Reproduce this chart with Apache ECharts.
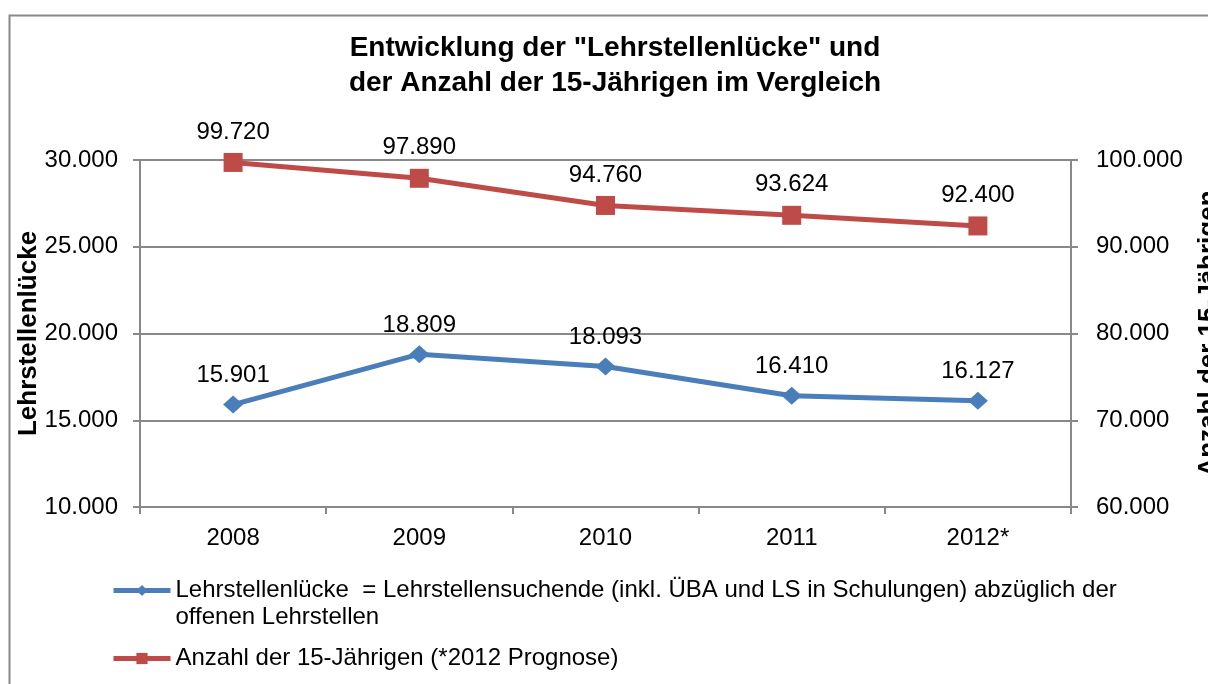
<!DOCTYPE html>
<html>
<head>
<meta charset="utf-8">
<script src="https://cdn.jsdelivr.net/npm/echarts@6/dist/echarts.min.js"></script>
<style>
  html, body { margin: 0; padding: 0; background: #fff; }
  #grafico { width: 1208px; height: 684px; }
</style>
</head>
<body>
<div id="grafico"></div>
<script>
// Datos
const jahre = ['2008', '2009', '2010', '2011', '2012*'];
const luecke = [15901, 18809, 18093, 16410, 16127];
const jaehrige = [99720, 97890, 94760, 93624, 92400];

const nameLuecke = 'Lehrstellenlücke  = Lehrstellensuchende (inkl. ÜBA und LS in Schulungen) abzüglich der\noffenen Lehrstellen';
const nameJaehrige = 'Anzahl der 15-Jährigen (*2012 Prognose)';

// Zahl im deutschen Format (Tausenderpunkt)
function fmt(v) {
    return String(Math.round(v)).replace(/\B(?=(\d{3})+(?!\d))/g, '.');
}

const schrift = 'Arial, "Liberation Sans", sans-serif';
const grau = '#888888';
const blau = '#4A7EBB';
const rot = '#BE4B48';

function crearGrafico() {
    return {
        textStyle: { fontFamily: schrift },
        title: {
            text: 'Entwicklung der "Lehrstellenlücke" und\nder Anzahl der 15-Jährigen im Vergleich',
            left: 610,
            top: 26,
            textAlign: 'center',
            textStyle: { fontFamily: schrift, fontSize: 28, fontWeight: 'bold', color: '#000', lineHeight: 35 }
        },
        graphic: [{
            type: 'rect',
            left: 7, top: 13,
            shape: { width: 1400, height: 900 },
            style: { fill: 'none', stroke: grau, lineWidth: 2 },
            z: -1
        }],
        legend: [{
            data: [nameLuecke],
            orient: 'vertical',
            left: 111, top: 550,
            padding: 0,
            itemWidth: 57, itemHeight: 14,
            lineStyle: { width: 5 },
            // Leerzeile oben, damit die erste Zeile neben dem Symbol steht
            formatter: name => '\n' + name,
            textStyle: { fontSize: 24, color: '#000', lineHeight: 27 }
        }, {
            data: [nameJaehrige],
            orient: 'vertical',
            left: 111, top: 645,
            padding: 0,
            itemWidth: 57, itemHeight: 14,
            lineStyle: { width: 5 },
            textStyle: { fontSize: 24, color: '#000', lineHeight: 27 }
        }],
        grid: { left: 140, right: 137, top: 160, bottom: 177, outerBoundsMode: 'none' },
        xAxis: {
            type: 'category',
            data: jahre,
            boundaryGap: true,
            axisLine: { lineStyle: { color: grau, width: 2 } },
            axisTick: { show: true, length: 7, lineStyle: { color: grau, width: 2 } },
            axisLabel: { fontSize: 24, color: '#000', margin: 19 }
        },
        yAxis: [{
            type: 'value',
            min: 10000, max: 30000, interval: 5000,
            name: 'Lehrstellenlücke',
            nameLocation: 'middle',
            nameRotate: 90,
            nameGap: 98,
            nameMoveOverlap: false,
            nameTextStyle: { fontSize: 26, fontWeight: 'bold', color: '#000' },
            axisLine: { show: true, lineStyle: { color: grau, width: 2 } },
            axisTick: { show: true, length: 7, lineStyle: { color: grau, width: 2 } },
            axisLabel: { fontSize: 24, color: '#000', margin: 22, formatter: fmt },
            splitLine: { show: true, lineStyle: { color: grau, width: 2 } }
        }, {
            type: 'value',
            min: 60000, max: 100000, interval: 10000,
            name: 'Anzahl der 15-Jährigen',
            nameLocation: 'middle',
            nameRotate: 90,
            nameGap: 125,
            nameMoveOverlap: false,
            nameTextStyle: { fontSize: 26, fontWeight: 'bold', color: '#000' },
            axisLine: { show: true, lineStyle: { color: grau, width: 2 } },
            axisTick: { show: true, length: 7, lineStyle: { color: grau, width: 2 } },
            axisLabel: { fontSize: 24, color: '#000', margin: 25, formatter: fmt },
            splitLine: { show: false }
        }],
        series: [{
            name: nameLuecke,
            type: 'line',
            yAxisIndex: 0,
            data: luecke,
            symbol: 'diamond',
            symbolSize: [20, 18],
            lineStyle: { color: blau, width: 5 },
            itemStyle: { color: blau },
            label: { show: true, position: 'top', distance: 8, fontSize: 24, color: '#000', formatter: p => fmt(p.value) }
        }, {
            name: nameJaehrige,
            type: 'line',
            yAxisIndex: 1,
            data: jaehrige,
            symbol: 'rect',
            symbolSize: 19,
            lineStyle: { color: rot, width: 5 },
            itemStyle: { color: rot },
            label: { show: true, position: 'top', distance: 9, fontSize: 24, color: '#000', formatter: p => fmt(p.value) }
        }]
    };
}

function iniciar() {
    const chartDom = document.getElementById('grafico');
    const myChart = echarts.init(chartDom, null, { renderer: 'canvas' });
    myChart.setOption(crearGrafico());
}

iniciar();
</script>
</body>
</html>
